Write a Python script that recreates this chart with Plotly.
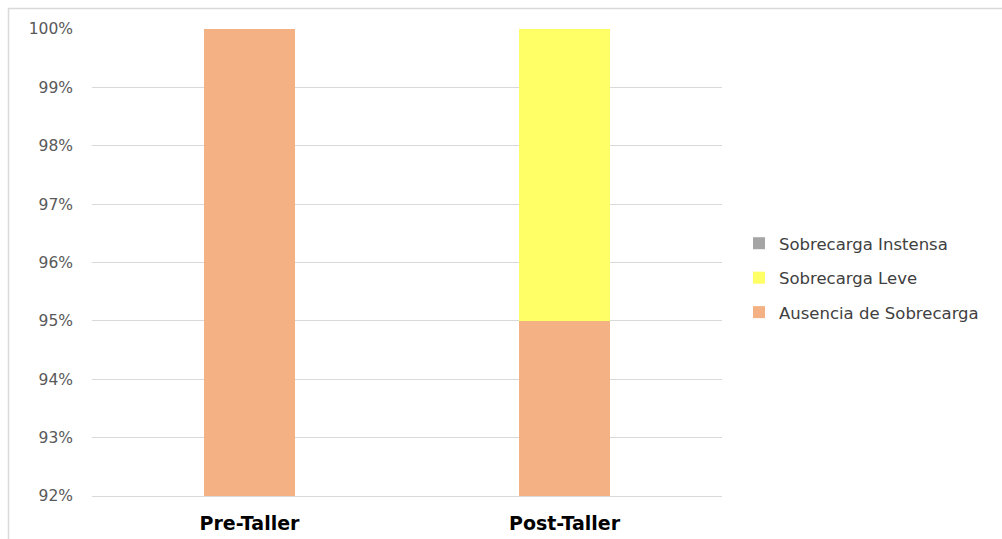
import plotly.graph_objects as go

categories = ["Pre-Taller", "Post-Taller"]
ausencia = [1.00, 0.95]
leve = [0.00, 0.05]
intensa = [0.00, 0.00]
series_names = ["Ausencia de Sobrecarga", "Sobrecarga Leve", "Sobrecarga Instensa"]
colors = ["#F4B183", "#FFFF66", "#A5A5A5"]
legend_ranks = [3, 2, 1]

fig = go.Figure()
for name, vals, col, rk in zip(series_names, [ausencia, leve, intensa], colors, legend_ranks):
    fig.add_trace(go.Bar(x=categories, y=vals, name=name, marker_color=col,
                         marker_line_width=0, legendgroup=name, legendrank=rk))

L, R, T, B = 92, 280, 29, 43
W, H = 1002, 539
pw, ph = W - L - R, H - T - B

def px_x(p):
    return (p - L) / pw

def px_y(p):
    return (H - B - p) / ph

fig.update_layout(
    width=W, height=H,
    margin=dict(l=L, r=R, t=T, b=B),
    barmode="stack", bargap=0.714,
    plot_bgcolor="white", paper_bgcolor="white",
    font=dict(family="DejaVu Sans", color="#595959", size=15),
    legend=dict(x=px_x(739), xanchor="left", y=px_y(278), yanchor="middle",
                traceorder="grouped", tracegroupgap=10,
                font=dict(size=16.5, color="#404040", family="DejaVu Sans")),
    shapes=[dict(type="rect", xref="paper", yref="paper",
                 x0=px_x(8.5), x1=px_x(1010), y0=px_y(8.5), y1=px_y(560),
                 line=dict(color="#D9D9D9", width=1.5), fillcolor="rgba(0,0,0,0)",
                 layer="below")],
)
fig.update_yaxes(range=[0.92, 1.0], dtick=0.01, tickformat=".0%",
                 gridcolor="#D9D9D9", zeroline=False, showline=False, automargin=False,
                 ticklabelstandoff=18, tickfont=dict(size=15.5, color="#595959"))
fig.update_xaxes(showline=True, linecolor="#D9D9D9", ticks="", automargin=False,
                 tickfont=dict(size=19, color="#000000", family="DejaVu Sans", weight="bold"),
                 ticklabelstandoff=10)

fig.write_html("out.html")
